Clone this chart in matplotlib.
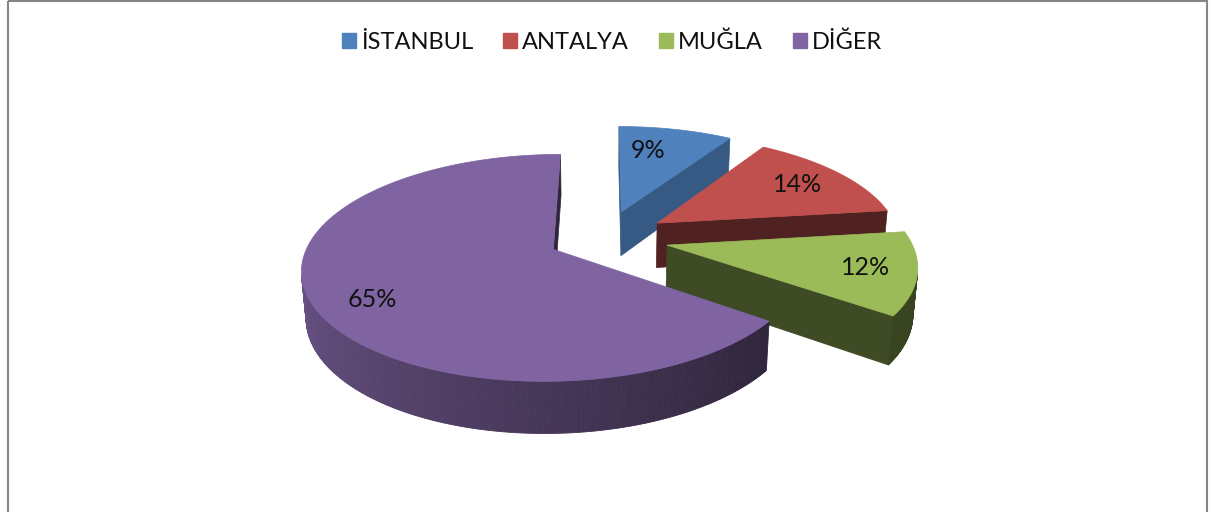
import numpy as np
import matplotlib.pyplot as plt
from matplotlib.colors import to_rgb
from matplotlib.patches import Polygon, Patch, Rectangle

cities = ["İSTANBUL", "ANTALYA", "MUĞLA", "DİĞER"]
shares = [9, 14, 12, 65]
colors = ["#4F81BD", "#C0504D", "#9BBB59", "#8064A2"]

# layout of the fake 3d pie (pixel space)
explode = [0.265, 0.265, 0.265, 0.23]
label_r = [0.7, 0.76, 0.8, 0.79]
label_shift = [-5, 0, 0, -5.5]
side_shade = [0.7, 0.41, 0.4, 0.37]
W, H = 1213, 512
cx, cy = 604, 238
fx, fy = 1370, 1425
dist = 5.64
tilt = np.radians(25)
thick = 0.2
cam = np.array([0.0, -dist * np.cos(tilt), dist * np.sin(tilt)])


def project(u, v, z):
    yc = v * np.sin(tilt) + z * np.cos(tilt)
    d = dist + v * np.cos(tilt) - z * np.sin(tilt)
    return cx + fx * u / d, cy - fy * yc / d


def shade(c, k):
    return tuple(min(1, x * k) for x in to_rgb(c))


def wall_k(phi):
    return 0.37 + 0.46 * np.clip((phi - 130) / 130, 0, 1)


plt.rcParams['font.family'] = ['Lato', 'DejaVu Sans']
fig = plt.figure(figsize=(W / 100, H / 100), dpi=100)
ax = fig.add_axes([0, 0, 1, 1])
ax.set_xlim(0, W)
ax.set_ylim(H, 0)
ax.axis('off')

# slice angles, clockwise from 12 o'clock
total = sum(shares)
ends = np.cumsum(shares) / total * 360
starts = np.concatenate([[0], ends[:-1]])

slices = []
for i in range(len(shares)):
    a0, a1 = starts[i], ends[i]
    mid = np.radians((a0 + a1) / 2)
    ou, ov = explode[i] * np.sin(mid), explode[i] * np.cos(mid)
    cv = ov + 0.5 * np.cos(mid)
    slices.append((cv, i, a0, a1, ou, ov))

# far slices first
slices.sort(key=lambda s: -s[0])

for cv, i, a0, a1, ou, ov in slices:
    col = colors[i]
    phis = np.linspace(a0, a1, max(int(a1 - a0) * 2, 4))
    rad = np.radians(phis)
    us = ou + np.sin(rad)
    vs = ov + np.cos(rad)

    # radial faces
    for a, sgn in [(a0, -1), (a1, 1)]:
        r = np.radians(a)
        n = np.array([sgn * np.cos(r), -sgn * np.sin(r), 0])
        p = np.array([ou, ov, 0])
        if n @ (cam - p) > 0:
            tu, tv = ou + np.sin(r), ov + np.cos(r)
            pts = [project(ou, ov, 0), project(tu, tv, 0),
                   project(tu, tv, -thick), project(ou, ov, -thick)]
            c = shade(col, side_shade[i])
            ax.add_patch(Polygon(pts, closed=True, fc=c, ec=c, lw=0.5))

    # outer wall strips
    for j in range(len(phis) - 1):
        pm = np.radians((phis[j] + phis[j + 1]) / 2)
        n = np.array([np.sin(pm), np.cos(pm), 0])
        p = np.array([ou + np.sin(pm), ov + np.cos(pm), 0])
        if n @ (cam - p) <= 0:
            continue
        pts = [project(us[j], vs[j], 0), project(us[j + 1], vs[j + 1], 0),
               project(us[j + 1], vs[j + 1], -thick), project(us[j], vs[j], -thick)]
        c = shade(col, wall_k((phis[j] + phis[j + 1]) / 2))
        ax.add_patch(Polygon(pts, closed=True, fc=c, ec=c, lw=0.6))

    # top face
    top = [project(ou, ov, 0)] + [project(u, v, 0) for u, v in zip(us, vs)]
    ax.add_patch(Polygon(top, closed=True, fc=col, ec=col, lw=0.5))

    # percentage label
    la = np.radians((a0 + a1) / 2 + label_shift[i])
    lx, ly = project(ou + label_r[i] * np.sin(la), ov + label_r[i] * np.cos(la), 0)
    ax.text(lx, ly, f"{shares[i]}%", ha='center', va='center',
            fontsize=18, color='#111111')

# chart border
ax.add_patch(Rectangle((8, 1), 1199, 530, fill=False, ec='#868686', lw=1.5, clip_on=False))

handles = [Patch(fc=c, ec=c) for c in colors]
fig.legend(handles, cities, loc='center', bbox_to_anchor=(612 / W, 1 - 42 / H), ncol=4,
           frameon=False, fontsize=17, handlelength=0.6, handleheight=0.6,
           handletextpad=0.22, columnspacing=1.25, labelcolor='#111111',
           borderpad=0, borderaxespad=0)

fig.savefig("out.png", dpi=100)
